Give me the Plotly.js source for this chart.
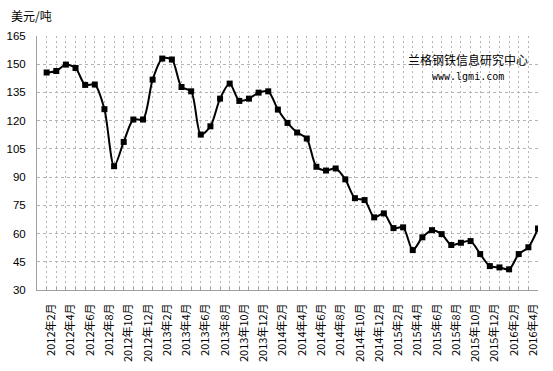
<!DOCTYPE html>
<html>
<head>
<meta charset="utf-8">
<script src="https://cdn.plot.ly/plotly-3.0.1.min.js"></script>
<style>html,body{margin:0;padding:0;background:#fff;}#chart{width:553px;height:371px;}</style>
</head>
<body>
<div id="chart"></div>
<script>
// Months 2012年2月 .. 2016年5月 (52 points)
var months = ["2012年2月","2012年3月","2012年4月","2012年5月","2012年6月","2012年7月","2012年8月","2012年9月","2012年10月","2012年11月","2012年12月",
"2013年1月","2013年2月","2013年3月","2013年4月","2013年5月","2013年6月","2013年7月","2013年8月","2013年9月","2013年10月","2013年11月","2013年12月",
"2014年1月","2014年2月","2014年3月","2014年4月","2014年5月","2014年6月","2014年7月","2014年8月","2014年9月","2014年10月","2014年11月","2014年12月",
"2015年1月","2015年2月","2015年3月","2015年4月","2015年5月","2015年6月","2015年7月","2015年8月","2015年9月","2015年10月","2015年11月","2015年12月",
"2016年1月","2016年2月","2016年3月","2016年4月","2016年5月"];
var prices = [145.6,146.4,149.8,148.0,139.0,139.2,126.1,95.8,108.7,120.6,120.6,
141.8,153.0,152.5,137.9,135.6,112.6,117.0,131.7,139.7,130.5,131.7,134.9,
135.6,125.9,118.8,113.7,110.5,95.5,93.5,94.6,88.8,78.8,77.8,68.6,
70.7,62.9,63.3,51.2,58.0,61.8,59.7,53.9,55.1,56.0,49.1,42.7,
42.0,41.0,49.1,52.7,62.7];
var tickLabels = ["2012年2月","2012年4月","2012年6月","2012年8月","2012年10月","2012年12月",
"2013年2月","2013年4月","2013年6月","2013年8月","2013年10月","2013年12月",
"2014年2月","2014年4月","2014年6月","2014年8月","2014年10月","2014年12月",
"2015年2月","2015年4月","2015年6月","2015年8月","2015年10月","2015年12月",
"2016年2月","2016年4月"];
var yTicks = [30,45,60,75,90,105,120,135,150,165];
var yTitle = "美元/吨";
var watermark1 = "兰格钢铁信息研究中心";
var watermark2 = "www.lgmi.com";

var ticktext = months.map(function(m){ return tickLabels.indexOf(m) >= 0 ? m : ""; });

var trace = {
  x: months, y: prices, type: "scatter", mode: "lines+markers",
  line: {color: "#000000", width: 2, shape: "spline", smoothing: 0.8},
  marker: {symbol: "square", size: 6, color: "#000000"},
  hoverinfo: "x+y"
};

var layout = {
  width: 553, height: 371,
  margin: {l: 37, r: 15, t: 36, b: 81},
  paper_bgcolor: "#ffffff", plot_bgcolor: "#ffffff",
  showlegend: false,
  font: {family: "Noto Sans CJK SC, sans-serif", size: 12, color: "#000"},
  xaxis: {
    type: "category", range: [-1, 51],
    tickmode: "array", tickvals: months, ticktext: ticktext,
    tickangle: -90, tickfont: {family: "Noto Sans CJK SC", size: 11, color: "#000"},
    ticks: "inside", ticklen: 3, tickcolor: "#a0a0a0", tickwidth: 1,
    showgrid: true, gridcolor: "#b4b4b4", gridwidth: 1, griddash: "2px,3px",
    showline: true, linecolor: "#a0a0a0", linewidth: 1,
    zeroline: false, ticklabelstandoff: 8, ticklabelshift: 5
  },
  yaxis: {
    range: [30, 165], tickmode: "array", tickvals: yTicks,
    tickfont: {family: "Liberation Sans, Arial, sans-serif", size: 11.5, color: "#000"},
    ticks: "", showgrid: true, gridcolor: "#b4b4b4", gridwidth: 1, griddash: "3px,3px",
    showline: true, linecolor: "#a0a0a0", linewidth: 1, zeroline: false,
    ticklabelstandoff: 8
  },
  annotations: [
    {text: yTitle, xref: "paper", yref: "paper", x: 0, y: 1, xanchor: "left", yanchor: "middle",
     xshift: -28, yshift: 21, showarrow: false, font: {family: "Noto Sans CJK SC", size: 12, color: "#000"}},
    {text: watermark1, xref: "paper", yref: "paper", x: 0.86, y: 1, xanchor: "center", yanchor: "middle",
     yshift: -23, showarrow: false, font: {family: "Noto Sans CJK SC", size: 12, color: "#000"}},
    {text: watermark2, xref: "paper", yref: "paper", x: 0.86, y: 1, xanchor: "center", yanchor: "middle",
     yshift: -40, showarrow: false, font: {family: "DejaVu Sans Mono, monospace", size: 10, color: "#000"}}
  ]
};

Plotly.newPlot("chart", [trace], layout, {staticPlot: true, displayModeBar: false});
</script>
</body>
</html>
